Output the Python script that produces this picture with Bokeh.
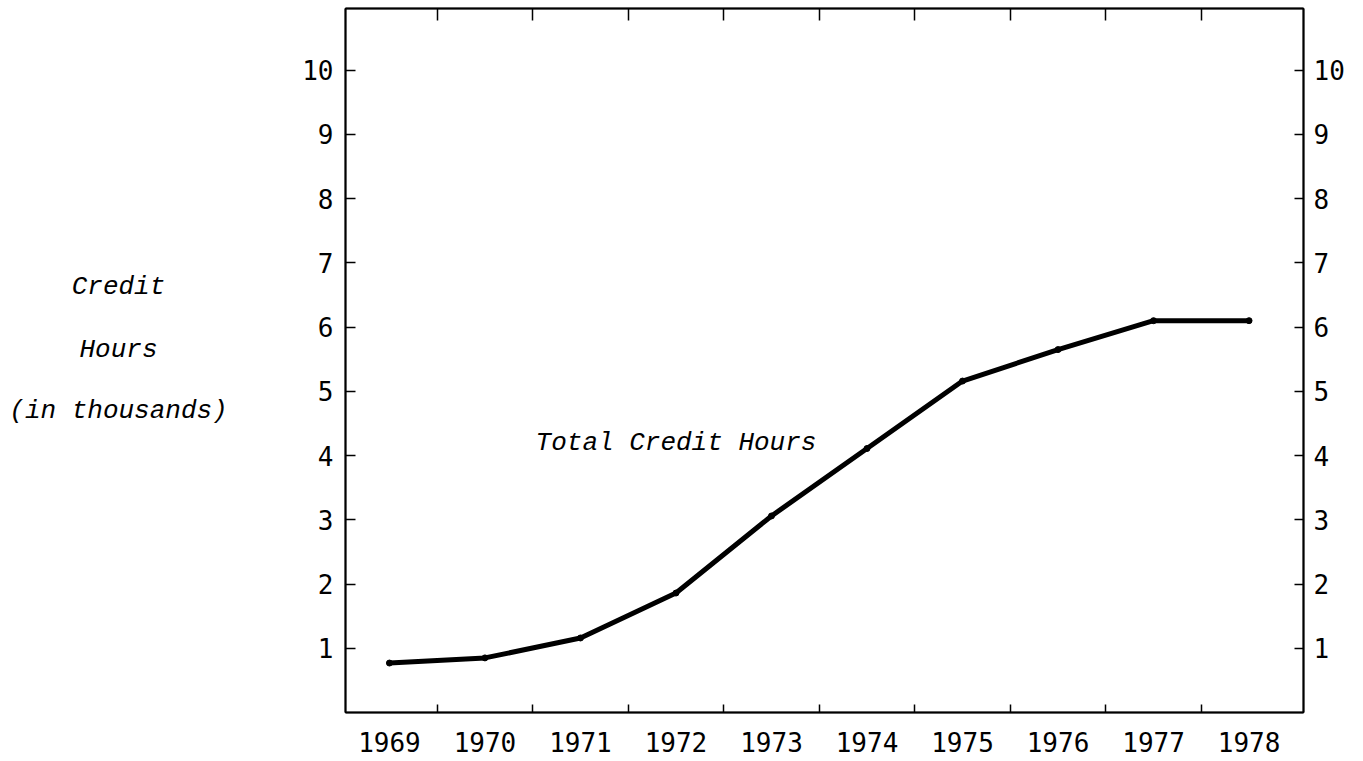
from bokeh.plotting import figure
from bokeh.models import LinearAxis, FixedTicker, Range1d, Label
from bokeh.layouts import row
from bokeh.core.properties import value
from bokeh.embed import file_html
from bokeh.resources import INLINE

# ---- data ----
years = [1969, 1970, 1971, 1972, 1973, 1974, 1975, 1976, 1977, 1978]
credit_hours = [0.77, 0.85, 1.16, 1.86, 3.06, 4.11, 5.16, 5.65, 6.10, 6.10]
year_boundaries = [1969.5, 1970.5, 1971.5, 1972.5, 1973.5, 1974.5, 1975.5, 1976.5, 1977.5]
y_ticks = [1, 2, 3, 4, 5, 6, 7, 8, 9, 10]
series_label = "Total Credit Hours"
y_title_lines = ["Credit", "Hours", "(in thousands)"]

TICK_FONT = "DejaVu Sans Mono"
TEXT_FONT = "Liberation Mono"

H = 761
TOP = 8
BOTTOM = 49
LEFT_W = 240
Y_MAX = 10.96

# ---- left panel holding the vertical-axis title ----
pl = figure(width=LEFT_W, height=H, output_backend="svg", toolbar_location=None,
            x_range=Range1d(0, LEFT_W), y_range=Range1d(0, Y_MAX),
            x_axis_location=None, y_axis_location=None,
            min_border_left=0, min_border_right=0, min_border_top=TOP,
            min_border_bottom=BOTTOM)
pl.xgrid.visible = False
pl.ygrid.visible = False
pl.outline_line_color = None
pl.text(x=[118, 118, 118], y=[6.62, 5.64, 4.70], text=y_title_lines,
        text_font=value(TEXT_FONT), text_font_style="italic", text_font_size="26px",
        text_color="black", text_align="center", text_baseline="alphabetic")

# ---- main chart ----
p = figure(width=1355 - LEFT_W, height=H, output_backend="svg", toolbar_location=None,
           x_range=Range1d(1968.54, 1978.57), y_range=Range1d(0, Y_MAX),
           x_axis_location=None, y_axis_location=None,
           min_border_left=345 - LEFT_W, min_border_right=52, min_border_top=TOP,
           min_border_bottom=BOTTOM)
p.xgrid.visible = False
p.ygrid.visible = False
p.outline_line_color = "black"
p.outline_line_width = 1.5

xt = FixedTicker(ticks=years, minor_ticks=year_boundaries)
xt_top = FixedTicker(ticks=year_boundaries, minor_ticks=[])
yt = FixedTicker(ticks=y_ticks, minor_ticks=[])

bottom = LinearAxis(ticker=xt)
bottom.major_tick_in = 0
bottom.major_tick_out = 0
bottom.minor_tick_in = 8
bottom.minor_tick_out = 0
bottom.minor_tick_line_color = "black"
bottom.minor_tick_line_width = 1.5
bottom.axis_line_color = "black"
bottom.axis_line_width = 2
bottom.major_label_text_font = TICK_FONT
bottom.major_label_text_font_size = "26px"
bottom.major_label_text_color = "black"
bottom.major_label_standoff = 19
p.add_layout(bottom, "below")

top = LinearAxis(ticker=xt_top)
top.major_tick_in = 12
top.major_tick_out = 0
top.minor_tick_in = 0
top.minor_tick_out = 0
top.major_tick_line_color = "black"
top.major_tick_line_width = 1.5
top.axis_line_color = "black"
top.axis_line_width = 2
top.major_label_overrides = {b: "" for b in year_boundaries}
top.major_label_standoff = 0
p.add_layout(top, "above")


def style_y(ax, tick_len, standoff):
    ax.major_tick_in = tick_len
    ax.major_tick_out = 0
    ax.minor_tick_in = 0
    ax.minor_tick_out = 0
    ax.major_tick_line_color = "black"
    ax.major_tick_line_width = 1.5
    ax.axis_line_color = "black"
    ax.axis_line_width = 2
    ax.major_label_text_font = TICK_FONT
    ax.major_label_text_font_size = "26px"
    ax.major_label_text_color = "black"
    ax.major_label_standoff = standoff


left = LinearAxis(ticker=yt)
style_y(left, 10, 12)
p.add_layout(left, "left")

right = LinearAxis(ticker=yt)
style_y(right, 9, 10)
p.add_layout(right, "right")

p.line(years, credit_hours, line_color="black", line_width=5, line_join="round", line_cap="round")
p.scatter(years, credit_hours, size=6, color="black")

p.add_layout(Label(x=1970.53, y=4.2, text=series_label, text_font=TEXT_FONT,
                   text_font_style="italic", text_font_size="26px", text_color="black",
                   text_baseline="alphabetic", text_align="left"))

layout = row(pl, p, spacing=0)
open("out.html", "w").write(file_html(layout, INLINE))
